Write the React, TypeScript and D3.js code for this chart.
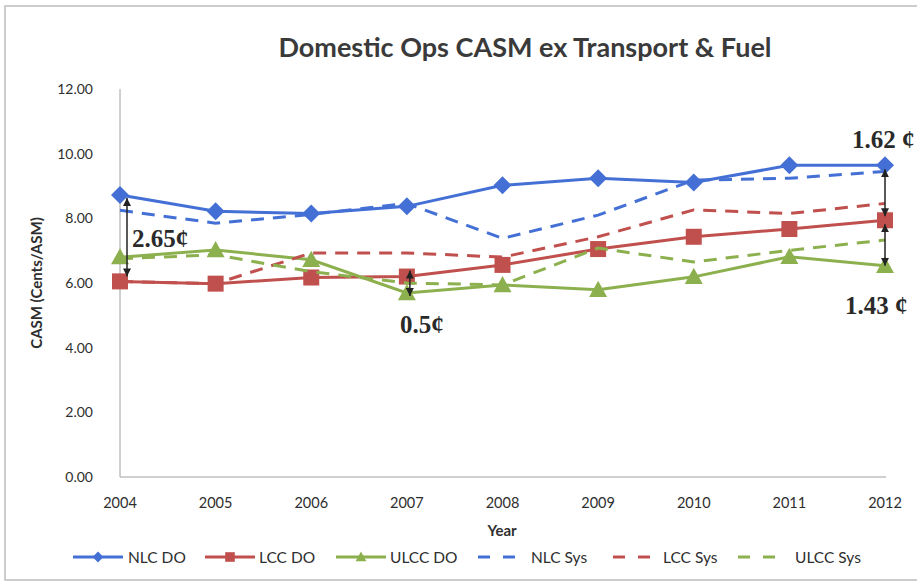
import * as d3 from "d3"

const years = [2004, 2005, 2006, 2007, 2008, 2009, 2010, 2011, 2012]
const nlcDO = [8.72, 8.22, 8.15, 8.37, 9.02, 9.24, 9.11, 9.64, 9.64]
const lccDO = [6.05, 5.98, 6.17, 6.2, 6.56, 7.05, 7.43, 7.67, 7.94]
const ulccDO = [6.8, 7.02, 6.72, 5.69, 5.94, 5.79, 6.19, 6.81, 6.53]
const nlcSys = [8.25, 7.85, 8.12, 8.46, 7.38, 8.1, 9.18, 9.24, 9.45]
const lccSys = [6.05, 5.98, 6.93, 6.93, 6.8, 7.43, 8.26, 8.15, 8.46]
const ulccSys = [6.75, 6.87, 6.35, 6.0, 5.94, 7.08, 6.65, 7.01, 7.33]
const yTicks = [0, 2, 4, 6, 8, 10, 12]

const BLUE = "#4470d6"
const RED = "#c0504d"
const GREEN = "#8db04f"

type Series = { name: string; values: number[]; color: string; dashed: boolean; marker?: "diamond" | "square" | "triangle" }

const series: Series[] = [
  { name: "NLC DO", values: nlcDO, color: BLUE, dashed: false, marker: "diamond" },
  { name: "LCC DO", values: lccDO, color: RED, dashed: false, marker: "square" },
  { name: "ULCC DO", values: ulccDO, color: GREEN, dashed: false, marker: "triangle" },
  { name: "NLC Sys", values: nlcSys, color: BLUE, dashed: true },
  { name: "LCC Sys", values: lccSys, color: RED, dashed: true },
  { name: "ULCC Sys", values: ulccSys, color: GREEN, dashed: true },
]

// legend positions (left of line sample, left of text)
const legendPos = [
  [73, 128], [205, 259], [336, 390], [478, 531], [613, 663], [738, 795],
]

const FONT = "Lato, 'Open Sans', sans-serif"
const SERIF = "'Liberation Serif', 'DejaVu Serif', serif"

function Marker({ kind, x, y, color, s = 1 }: { kind?: string; x: number; y: number; color: string; s?: number }) {
  if (kind === "diamond") {
    const r = 9 * s
    return <path d={`M${x},${y - r}L${x + r},${y}L${x},${y + r}L${x - r},${y}Z`} fill={color} />
  }
  if (kind === "square") {
    const r = 8 * s
    return <rect x={x - r} y={y - r} width={2 * r} height={2 * r} fill={color} />
  }
  if (kind === "triangle") {
    const r = 9 * s
    return <path d={`M${x},${y - r}L${x + r},${y + r * 0.8}L${x - r},${y + r * 0.8}Z`} fill={color} />
  }
  return null
}

export default function App() {
  const x = d3.scalePoint<number>().domain(years).range([120, 885])
  const y = d3.scaleLinear().domain([0, 12]).range([477, 89])

  const line = (vals: number[]) =>
    d3.line<number>().x((_, i) => x(years[i])!).y((v) => y(v))(vals) || ""

  const arrows = [
    { x: x(2004)! + 7, y1: y(nlcDO[0]) + 3, y2: y(lccDO[0]) - 5 },
    { x: x(2007)! + 3, y1: y(lccDO[3]) - 6, y2: y(ulccDO[3]) + 3 },
    { x: x(2012)!, y1: y(nlcDO[8]) + 4, y2: y(lccDO[8]) - 4 },
    { x: x(2012)!, y1: y(lccDO[8]) + 4, y2: y(ulccDO[8]) },
  ]

  return (
    <svg width={917} height={584} style={{ position: "absolute", left: 0, top: 0, background: "#fff" }}>
      <defs>
        <marker id="ah" viewBox="0 0 10 10" refX="10" refY="5" markerWidth="8" markerHeight="8" markerUnits="userSpaceOnUse" orient="auto-start-reverse">
          <path d="M0,0L10,5L0,10Z" fill="#222" />
        </marker>
      </defs>
      <rect x={5} y={6} width={930} height={574} fill="#fff" stroke="#bdbdbd" strokeWidth={1.5} />

      <text x={525} y={57} textAnchor="middle" fontFamily={FONT} fontWeight="bold" fontSize={27} fill="#3a3a3a">
        Domestic Ops CASM ex Transport &amp; Fuel
      </text>

      {/* axes */}
      <line x1={120} x2={120} y1={y(12)} y2={y(0)} stroke="#a0a0a0" strokeWidth={1} />
      <line x1={120} x2={886} y1={y(0)} y2={y(0)} stroke="#a0a0a0" strokeWidth={1} />
      {yTicks.map((t) => (
        <text key={t} x={93} y={y(t) + 5} textAnchor="end" fontFamily={FONT} fontSize={14} fill="#2e2e2e">
          {t.toFixed(2)}
        </text>
      ))}
      {years.map((yr) => (
        <text key={yr} x={x(yr)} y={508} textAnchor="middle" fontFamily={FONT} fontSize={14.5} fill="#2e2e2e">
          {yr}
        </text>
      ))}
      <text x={502} y={536} textAnchor="middle" fontFamily={FONT} fontWeight="bold" fontSize={15} fill="#2e2e2e">
        Year
      </text>
      <text transform={`translate(42,${(y(0) + y(12)) / 2}) rotate(-90)`} textAnchor="middle" fontFamily={FONT} fontWeight="bold" fontSize={15} fill="#2e2e2e">
        CASM (Cents/ASM)
      </text>

      {/* series */}
      {series.map((s) => (
        <g key={s.name}>
          <path d={line(s.values)} fill="none" stroke={s.color} strokeWidth={3} strokeDasharray={s.dashed ? "13 9" : undefined} />
          {s.marker && s.values.map((v, i) => <Marker key={i} kind={s.marker} x={x(years[i])!} y={y(v)} color={s.color} />)}
        </g>
      ))}

      {/* annotations */}
      {arrows.map((a, i) => (
        <line key={i} x1={a.x} x2={a.x} y1={a.y1} y2={a.y2} stroke="#222" strokeWidth={1.5} markerStart="url(#ah)" markerEnd="url(#ah)" />
      ))}
      <g fontFamily={SERIF} fontWeight="bold" fontSize={25} fill="#2a2a2a">
        <text x={132} y={247}>2.65¢</text>
        <text x={400} y={333}>0.5¢</text>
        <text x={852} y={148}>1.62 ¢</text>
        <text x={845} y={314}>1.43 ¢</text>
      </g>

      {/* legend */}
      {series.map((s, i) => {
        const [lx, tx] = legendPos[i]
        const ly = 557
        const w = s.dashed ? 37 : 50
        return (
          <g key={s.name}>
            {s.dashed ? (
              <>
                <line x1={lx} x2={lx + 12} y1={ly} y2={ly} stroke={s.color} strokeWidth={3} />
                <line x1={lx + w - 12} x2={lx + w} y1={ly} y2={ly} stroke={s.color} strokeWidth={3} />
              </>
            ) : (
              <>
                <line x1={lx} x2={lx + w} y1={ly} y2={ly} stroke={s.color} strokeWidth={3} />
                <Marker kind={s.marker} x={lx + w / 2} y={ly} color={s.color} s={0.6} />
              </>
            )}
            <text x={tx} y={ly + 5.5} fontFamily={FONT} fontSize={15.5} fill="#2e2e2e">
              {s.name}
            </text>
          </g>
        )
      })}
    </svg>
  )
}
